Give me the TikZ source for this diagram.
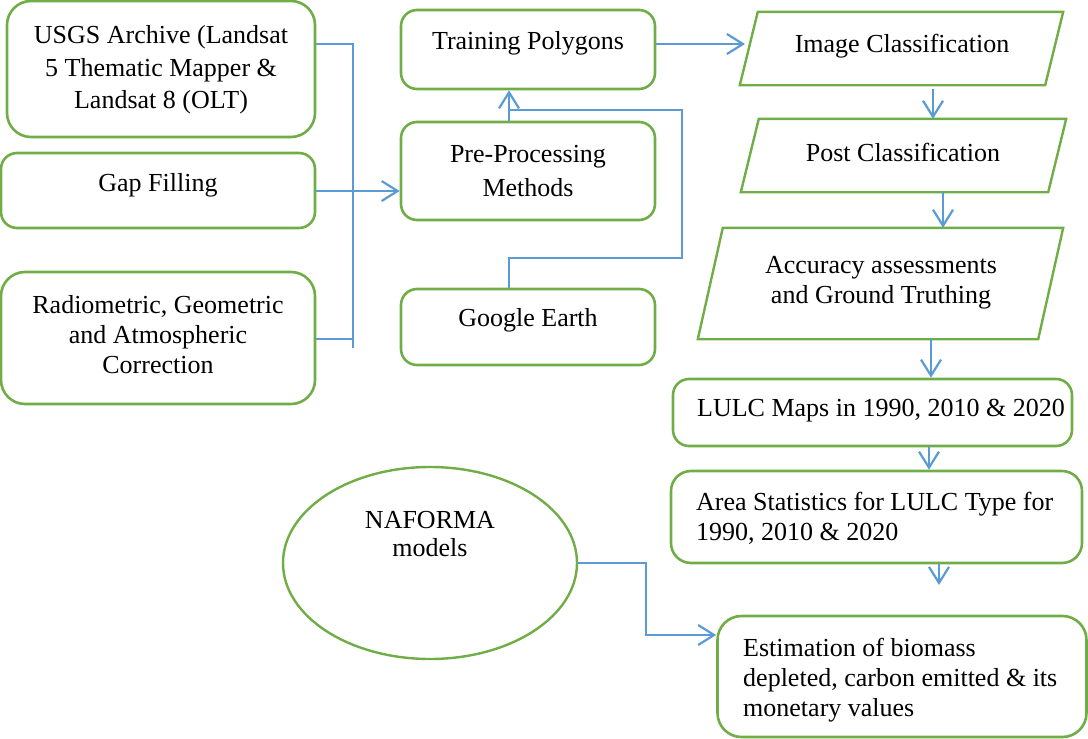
\documentclass[tikz,border=0pt]{standalone}
\usepackage{fontspec}
\setmainfont{Liberation Serif}
\usetikzlibrary{arrows.meta,calc,shapes.geometric}
\definecolor{gr}{HTML}{70AD47}
\definecolor{bl}{HTML}{5B9BD5}
\begin{document}
\begin{tikzpicture}[x=1pt,y=-1pt,
  box/.style={draw=gr,line width=2.6pt,rounded corners=16pt,inner sep=0pt},
  body/.style={inner sep=0pt},
  pline/.style={draw=gr,line width=2.4pt,line join=miter},
  txt/.style={font=\fontsize{26}{30}\selectfont,align=center,inner sep=0pt},
  ltxt/.style={font=\fontsize{26}{30}\selectfont,align=left,inner sep=0pt,anchor=west},
  thin/.style={draw=bl,line width=1.1pt},
  thick/.style={draw=bl,line width=2pt},
  arr/.style={-{Straight Barb[length=16pt,width=20pt,line width=2.2pt]}}]
\useasboundingbox (0,0) rectangle (1088,739);
% left column
\node[box,rounded corners=24pt,minimum width=308pt,minimum height=136pt] (usgs) at (161,69) {};
\node[txt,font=\fontsize{26}{32.5}\selectfont] (usgst) at (161,70) {USGS Archive (Landsat\\5 Thematic Mapper \&\\Landsat 8 (OLT)};
\node[box,minimum width=314pt,minimum height=75pt] (gap) at (158,190.5) {};
\node[txt] (gapt) at (158,185) {Gap Filling};
\node[box,rounded corners=24pt,minimum width=314pt,minimum height=132pt] (rad) at (158,338) {};
\node[txt] (radt) at (158,335) {Radiometric, Geometric\\and Atmospheric\\Correction};
% middle column
\node[box,minimum width=254pt,minimum height=79pt] (tp) at (528,49.5) {};
\node[txt] (tpt) at (528,43) {Training Polygons};
\node[box,minimum width=254pt,minimum height=98pt] (pp) at (528,171) {};
\node[txt,font=\fontsize{26}{34}\selectfont] (ppt) at (528,171) {Pre-Processing\\Methods};
\node[box,minimum width=254pt,minimum height=76pt] (ge) at (528,327) {};
\node[txt] (get) at (528,320) {Google Earth};
% right column: parallelograms (body rectangles + slanted outline)
\node[body,minimum width=305pt,minimum height=73pt] (ic) at (901.5,48.5) {};
\draw[pline] ([xshift=-9pt]ic.south west) -- ([xshift=9pt]ic.north west) -- ([xshift=9pt]ic.north east) -- ([xshift=-9pt]ic.south east) -- cycle;
\node[txt] (ict) at (902,46) {Image Classification};
\node[body,minimum width=307pt,minimum height=73pt] (pc) at (903.5,155.5) {};
\draw[pline] ([xshift=-9pt]pc.south west) -- ([xshift=9pt]pc.north west) -- ([xshift=9pt]pc.north east) -- ([xshift=-9pt]pc.south east) -- cycle;
\node[txt] (pct) at (903,152) {Post Classification};
\node[body,minimum width=340pt,minimum height=111pt] (acc) at (880.5,283.5) {};
\draw[pline] ([xshift=-12.5pt]acc.south west) -- ([xshift=12.5pt]acc.north west) -- ([xshift=12.5pt]acc.north east) -- ([xshift=-12.5pt]acc.south east) -- cycle;
\node[txt] (acct) at (881,283) {Accuracy assessments\\and Ground Truthing};
\node[box,minimum width=399pt,minimum height=67pt] (lulc) at (872.5,412.5) {};
\node[ltxt] (lulct) at (697,411) {LULC Maps in 1990, 2010 \& 2020};
\node[box,rounded corners=20pt,minimum width=411pt,minimum height=92pt] (area) at (876.5,517) {};
\node[ltxt] (areat) at (696,518) {Area Statistics for LULC Type for\\1990, 2010 \& 2020};
\node[box,rounded corners=24pt,minimum width=369pt,minimum height=121pt] (est) at (902,676.5) {};
\node[ltxt] (estt) at (743,680) {Estimation of biomass\\depleted, carbon emitted \& its\\monetary values};
\node[draw=gr,line width=2.4pt,ellipse,minimum width=294pt,minimum height=192pt,inner sep=0pt] (naf) at (430,563) {};
\node[txt,font=\fontsize{26}{28}\selectfont] (naft) at (430,534) {NAFORMA\\models};
% connectors
\coordinate (bus) at (353,191);
\coordinate (mx) at (509,0);
\coordinate (a1) at (933,0);
\coordinate (a2) at (943,0);
\coordinate (a3) at (931,0);
\coordinate (a4) at (929,0);
\coordinate (free) at (939,585);
\draw[thin] (usgs.east |- 0,44) -- (353,44) -- (353,348);
\draw[thin] (gap.east |- bus) -- (bus);
\draw[thin] (rad.east |- 0,339) -- (353,339);
\draw[thick,arr] (bus) -- (pp.west |- bus);
\draw[thick,arr] (pp.north -| mx) -- (tp.south -| mx);
\draw[thin] (ge.north -| mx) -- (509,258) -- (682,258) -- (682,110) -- (509,110);
\draw[thick,arr] (tp.east |- 0,44) -- (745,44);
\draw[thick,arr] ([yshift=-4pt]ic.south -| a1) -- (pc.north -| a1);
\draw[thick,arr] (pc.south -| a2) -- (acc.north -| a2);
\draw[thick,arr] (acc.south -| a3) -- (lulc.north -| a3);
\draw[thick,arr] (lulc.south -| a4) -- (area.north -| a4);
\draw[thick,arr] (area.south -| free) -- (free);
\draw[thick,arr] (naf.east) -- (646,563) -- (646,635) -- (est.west |- 0,635);
\end{tikzpicture}
\end{document}
